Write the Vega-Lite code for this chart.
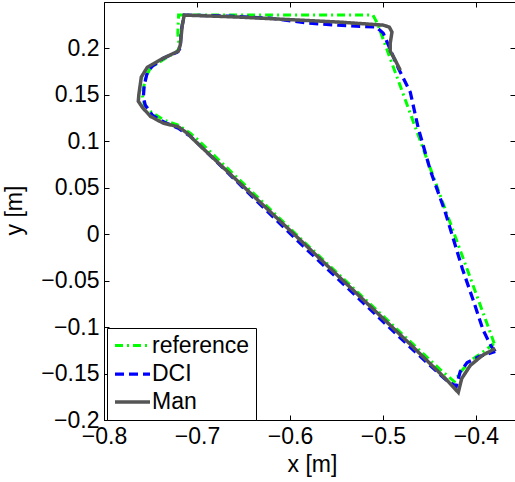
{
  "$schema": "https://vega.github.io/schema/vega-lite/v6.json",
  "width": 411,
  "height": 418,
  "autosize": {"type": "none"},
  "padding": {"left": 104, "top": 2, "right": 0, "bottom": 62},
  "background": "white",
  "config": {
    "view": {"stroke": "black", "strokeWidth": 1},
    "font": "Liberation Sans",
    "axis": {
      "grid": false,
      "domainColor": "black",
      "tickColor": "black",
      "labelColor": "black",
      "titleColor": "black",
      "labelFont": "Liberation Sans",
      "titleFont": "Liberation Sans",
      "labelFontSize": 23,
      "titleFontSize": 23,
      "titleFontWeight": "normal",
      "tickSize": -5,
      "labelFlush": false,
      "labelOverlap": false
    },
    "legend": {
      "labelFont": "Liberation Sans",
      "labelFontSize": 23,
      "labelColor": "black"
    }
  },
  "data": {
    "values": [
      {"s": "reference", "i": 1, "x": -0.3803, "y": -0.1176},
      {"s": "reference", "i": 2, "x": -0.5061, "y": 0.2273},
      {"s": "reference", "i": 3, "x": -0.5108, "y": 0.2359},
      {"s": "reference", "i": 4, "x": -0.7198, "y": 0.2359},
      {"s": "reference", "i": 5, "x": -0.7206, "y": 0.2165},
      {"s": "reference", "i": 6, "x": -0.719, "y": 0.2003},
      {"s": "reference", "i": 7, "x": -0.7223, "y": 0.196},
      {"s": "reference", "i": 8, "x": -0.7373, "y": 0.1874},
      {"s": "reference", "i": 9, "x": -0.7502, "y": 0.1788},
      {"s": "reference", "i": 10, "x": -0.7556, "y": 0.168},
      {"s": "reference", "i": 11, "x": -0.7588, "y": 0.1497},
      {"s": "reference", "i": 12, "x": -0.7567, "y": 0.14},
      {"s": "reference", "i": 13, "x": -0.7491, "y": 0.1314},
      {"s": "reference", "i": 14, "x": -0.7352, "y": 0.1228},
      {"s": "reference", "i": 15, "x": -0.7201, "y": 0.1174},
      {"s": "reference", "i": 16, "x": -0.7072, "y": 0.1087},
      {"s": "reference", "i": 17, "x": -0.6997, "y": 0.1023},
      {"s": "reference", "i": 18, "x": -0.5889, "y": -0.0044},
      {"s": "reference", "i": 19, "x": -0.4685, "y": -0.1176},
      {"s": "reference", "i": 20, "x": -0.4384, "y": -0.1457},
      {"s": "reference", "i": 21, "x": -0.4233, "y": -0.1586},
      {"s": "reference", "i": 22, "x": -0.4169, "y": -0.1489},
      {"s": "reference", "i": 23, "x": -0.4061, "y": -0.136},
      {"s": "reference", "i": 24, "x": -0.3932, "y": -0.1273},
      {"s": "reference", "i": 25, "x": -0.3803, "y": -0.1176},
      {"s": "DCI", "i": 1, "x": -0.3792, "y": -0.1262},
      {"s": "DCI", "i": 2, "x": -0.3835, "y": -0.1208},
      {"s": "DCI", "i": 3, "x": -0.3921, "y": -0.1036},
      {"s": "DCI", "i": 4, "x": -0.4029, "y": -0.0712},
      {"s": "DCI", "i": 5, "x": -0.4147, "y": -0.0368},
      {"s": "DCI", "i": 6, "x": -0.433, "y": 0.0236},
      {"s": "DCI", "i": 7, "x": -0.4491, "y": 0.0689},
      {"s": "DCI", "i": 8, "x": -0.462, "y": 0.1141},
      {"s": "DCI", "i": 9, "x": -0.4706, "y": 0.1529},
      {"s": "DCI", "i": 10, "x": -0.4835, "y": 0.1788},
      {"s": "DCI", "i": 11, "x": -0.4997, "y": 0.2165},
      {"s": "DCI", "i": 12, "x": -0.5072, "y": 0.223},
      {"s": "DCI", "i": 13, "x": -0.5491, "y": 0.2251},
      {"s": "DCI", "i": 14, "x": -0.5814, "y": 0.2273},
      {"s": "DCI", "i": 15, "x": -0.6212, "y": 0.2326},
      {"s": "DCI", "i": 16, "x": -0.6642, "y": 0.2348},
      {"s": "DCI", "i": 17, "x": -0.7137, "y": 0.2359},
      {"s": "DCI", "i": 18, "x": -0.7169, "y": 0.2197},
      {"s": "DCI", "i": 19, "x": -0.718, "y": 0.2003},
      {"s": "DCI", "i": 20, "x": -0.7212, "y": 0.196},
      {"s": "DCI", "i": 21, "x": -0.7362, "y": 0.1895},
      {"s": "DCI", "i": 22, "x": -0.748, "y": 0.1809},
      {"s": "DCI", "i": 23, "x": -0.7534, "y": 0.1745},
      {"s": "DCI", "i": 24, "x": -0.7567, "y": 0.1605},
      {"s": "DCI", "i": 25, "x": -0.7577, "y": 0.1475},
      {"s": "DCI", "i": 26, "x": -0.7556, "y": 0.1389},
      {"s": "DCI", "i": 27, "x": -0.748, "y": 0.1281},
      {"s": "DCI", "i": 28, "x": -0.7352, "y": 0.1206},
      {"s": "DCI", "i": 29, "x": -0.7201, "y": 0.1141},
      {"s": "DCI", "i": 30, "x": -0.7072, "y": 0.1055},
      {"s": "DCI", "i": 31, "x": -0.5889, "y": -0.0098},
      {"s": "DCI", "i": 32, "x": -0.4706, "y": -0.1217},
      {"s": "DCI", "i": 33, "x": -0.433, "y": -0.1562},
      {"s": "DCI", "i": 34, "x": -0.4212, "y": -0.1638},
      {"s": "DCI", "i": 35, "x": -0.4169, "y": -0.1478},
      {"s": "DCI", "i": 36, "x": -0.4094, "y": -0.1382},
      {"s": "DCI", "i": 37, "x": -0.3965, "y": -0.1317},
      {"s": "DCI", "i": 38, "x": -0.3792, "y": -0.1262},
      {"s": "Man", "i": 1, "x": -0.4814, "y": 0.1766},
      {"s": "Man", "i": 2, "x": -0.4868, "y": 0.1874},
      {"s": "Man", "i": 3, "x": -0.4922, "y": 0.1971},
      {"s": "Man", "i": 4, "x": -0.4922, "y": 0.2057},
      {"s": "Man", "i": 5, "x": -0.4903, "y": 0.2176},
      {"s": "Man", "i": 6, "x": -0.4932, "y": 0.223},
      {"s": "Man", "i": 7, "x": -0.4997, "y": 0.2251},
      {"s": "Man", "i": 8, "x": -0.5459, "y": 0.2283},
      {"s": "Man", "i": 9, "x": -0.5997, "y": 0.231},
      {"s": "Man", "i": 10, "x": -0.6534, "y": 0.2337},
      {"s": "Man", "i": 11, "x": -0.6965, "y": 0.2353},
      {"s": "Man", "i": 12, "x": -0.7137, "y": 0.2359},
      {"s": "Man", "i": 13, "x": -0.7158, "y": 0.2251},
      {"s": "Man", "i": 14, "x": -0.718, "y": 0.2036},
      {"s": "Man", "i": 15, "x": -0.7201, "y": 0.1971},
      {"s": "Man", "i": 16, "x": -0.7362, "y": 0.1895},
      {"s": "Man", "i": 17, "x": -0.7534, "y": 0.1798},
      {"s": "Man", "i": 18, "x": -0.7599, "y": 0.1691},
      {"s": "Man", "i": 19, "x": -0.7626, "y": 0.1497},
      {"s": "Man", "i": 20, "x": -0.7631, "y": 0.1432},
      {"s": "Man", "i": 21, "x": -0.7588, "y": 0.1367},
      {"s": "Man", "i": 22, "x": -0.7502, "y": 0.127},
      {"s": "Man", "i": 23, "x": -0.7362, "y": 0.1195},
      {"s": "Man", "i": 24, "x": -0.7201, "y": 0.1157},
      {"s": "Man", "i": 25, "x": -0.7104, "y": 0.1087},
      {"s": "Man", "i": 26, "x": -0.704, "y": 0.1022},
      {"s": "Man", "i": 27, "x": -0.5886, "y": -0.0066},
      {"s": "Man", "i": 28, "x": -0.4706, "y": -0.1185},
      {"s": "Man", "i": 29, "x": -0.433, "y": -0.1552},
      {"s": "Man", "i": 30, "x": -0.419, "y": -0.1703},
      {"s": "Man", "i": 31, "x": -0.4153, "y": -0.1553},
      {"s": "Man", "i": 32, "x": -0.4061, "y": -0.1413},
      {"s": "Man", "i": 33, "x": -0.3932, "y": -0.1305},
      {"s": "Man", "i": 34, "x": -0.3792, "y": -0.123}
    ]
  },
  "layer": [
    {
      "mark": {"type": "line", "clip": true},
      "encoding": {
        "x": {
          "field": "x", "type": "quantitative",
          "scale": {"domain": [-0.8, -0.358], "nice": false, "zero": false},
          "axis": {
            "values": [-0.8, -0.7, -0.6, -0.5, -0.4],
            "format": ".1~f",
            "title": "x [m]",
            "titleX": 208,
            "labelPadding": 10,
            "titlePadding": 5
          }
        },
        "y": {
          "field": "y", "type": "quantitative",
          "scale": {"domain": [-0.2, 0.25], "nice": false, "zero": false},
          "axis": {
            "values": [-0.2, -0.15, -0.1, -0.05, 0, 0.05, 0.1, 0.15, 0.2],
            "format": ".2~f",
            "title": "y [m]",
            "titleY": 208,
            "labelPadding": 10,
            "titlePadding": 14
          }
        },
        "order": {"field": "i", "type": "quantitative"},
        "color": {
          "field": "s", "type": "nominal",
          "scale": {"domain": ["reference", "DCI", "Man"], "range": ["#00ff00", "#0000ff", "#555555"]},
          "legend": {
            "title": null,
            "orient": "none",
            "legendX": 3,
            "legendY": 326,
            "fillColor": "white",
            "strokeColor": "black",
            "padding": 6,
            "cornerRadius": 0,
            "symbolType": "M-1,0H2.5",
            "symbolSize": 400,
            "symbolStrokeWidth": 3.5,
            "labelOffset": 15,
            "rowPadding": 4
          }
        },
        "strokeDash": {
          "field": "s", "type": "nominal",
          "scale": {"domain": ["reference", "DCI", "Man"], "range": [[8, 4, 2, 4], [9, 5], [1, 0]]},
          "legend": null
        },
        "strokeWidth": {
          "field": "s", "type": "nominal",
          "scale": {"domain": ["reference", "DCI", "Man"], "range": [3, 3.5, 4]},
          "legend": null
        }
      }
    },
    {
      "mark": {"type": "line", "opacity": 0},
      "encoding": {
        "x": {
          "field": "x", "type": "quantitative",
          "axis": {"orient": "top", "values": [-0.8, -0.7, -0.6, -0.5, -0.4], "labels": false, "title": null, "domain": false}
        },
        "y": {
          "field": "y", "type": "quantitative",
          "axis": {"orient": "right", "values": [-0.2, -0.15, -0.1, -0.05, 0, 0.05, 0.1, 0.15, 0.2], "labels": false, "title": null, "domain": false}
        },
        "detail": {"field": "s", "type": "nominal"},
        "order": {"field": "i", "type": "quantitative"}
      }
    }
  ],
  "resolve": {"axis": {"x": "independent", "y": "independent"}}
}
